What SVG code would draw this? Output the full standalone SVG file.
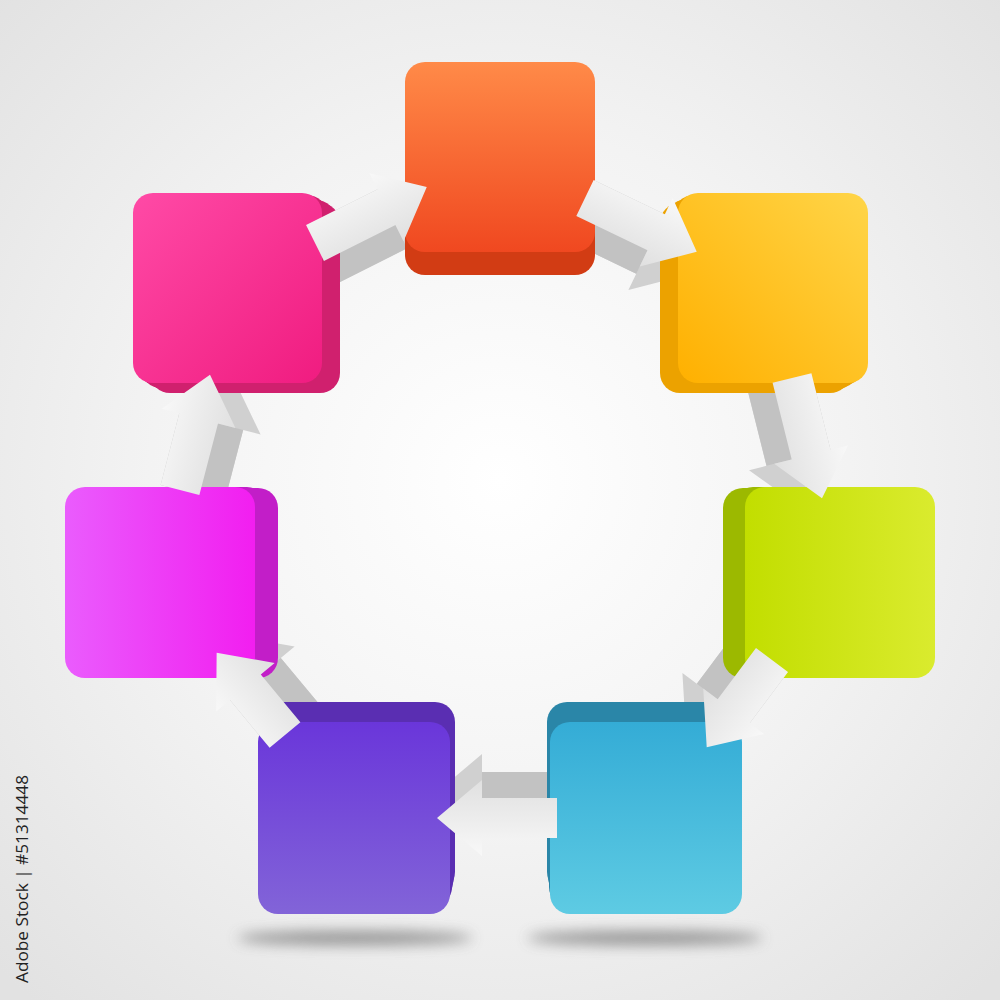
<svg xmlns="http://www.w3.org/2000/svg" width="1000" height="1000" viewBox="0 0 1000 1000">
<defs>
<radialGradient id="bg" cx="500" cy="480" r="700" gradientUnits="userSpaceOnUse">
<stop offset="0" stop-color="#ffffff"/><stop offset="0.5" stop-color="#f3f3f3"/><stop offset="1" stop-color="#e2e2e2"/>
</radialGradient>
<linearGradient id="gOrange" x1="0" y1="0" x2="0" y2="1"><stop offset="0" stop-color="#ff8a48"/><stop offset="1" stop-color="#f04820"/></linearGradient>
<linearGradient id="gYellow" x1="1" y1="0" x2="0" y2="1"><stop offset="0" stop-color="#ffd548"/><stop offset="1" stop-color="#ffb000"/></linearGradient>
<linearGradient id="gGreen" x1="0" y1="0" x2="1" y2="0"><stop offset="0" stop-color="#c2de00"/><stop offset="1" stop-color="#daeb2e"/></linearGradient>
<linearGradient id="gBlue" x1="0" y1="0" x2="0" y2="1"><stop offset="0" stop-color="#34acd6"/><stop offset="1" stop-color="#5ecbe3"/></linearGradient>
<linearGradient id="gPurple" x1="0" y1="0" x2="0" y2="1"><stop offset="0" stop-color="#6a36da"/><stop offset="1" stop-color="#8264d8"/></linearGradient>
<linearGradient id="gMagenta" x1="0" y1="0" x2="1" y2="0"><stop offset="0" stop-color="#ea5cfd"/><stop offset="1" stop-color="#f21ef0"/></linearGradient>
<linearGradient id="gPink" x1="0" y1="0" x2="1" y2="1"><stop offset="0" stop-color="#ff4aa6"/><stop offset="1" stop-color="#f01c80"/></linearGradient>
<linearGradient id="arrowFace" x1="0" y1="0" x2="0" y2="1"><stop offset="0" stop-color="#f8f8f8"/><stop offset="1" stop-color="#e0e0e0"/></linearGradient>
<filter id="blur" x="-50%" y="-200%" width="200%" height="500%"><feGaussianBlur stdDeviation="7"/></filter>
<rect id="sq" x="0" y="0" width="190" height="190" rx="20"/>
<style>
.face{fill:url(#arrowFace)}
.side{fill:#c2c2c2}
.headside{fill:#d0d0d0}
.thin{stroke:#bdbdbd;stroke-width:1.5;fill:none}
.label{font-family:"Open Sans","Liberation Sans",sans-serif;font-size:16px;fill:#222}
</style>
</defs>
<rect x="0" y="0" width="1000" height="1000" fill="url(#bg)"/>
<g id="shadows">
<ellipse cx="355" cy="938" rx="118" ry="7" fill="#555" opacity="0.6" filter="url(#blur)"/>
<ellipse cx="645" cy="938" rx="118" ry="7" fill="#555" opacity="0.6" filter="url(#blur)"/>
</g>
<g id="connector-sides">
<g transform="translate(315,243) rotate(-26.6)"><polygon class="headside" points="0,6 80,6 80,-12 125,26 80,64 80,46 0,46"/><rect class="side" x="0" y="-20" width="80" height="66"/></g>
<g transform="translate(585,198) rotate(25.7)"><polygon class="headside" points="0,6 79,6 79,-12 124,26 79,64 79,46 0,46"/><rect class="side" x="0" y="-20" width="79" height="66"/></g>
<g transform="translate(792,378) rotate(76)"><polygon class="headside" points="0,6 79,6 79,-12 124,26 79,64 79,46 0,46"/><rect class="side" x="0" y="-20" width="79" height="66"/></g>
<g transform="translate(772,660) rotate(126.8)"><polygon class="headside" points="0,6 64,6 64,-12 109,26 64,64 64,46 0,46"/><rect class="side" x="0" y="-20" width="64" height="66"/></g>
<g transform="translate(557,818) rotate(180)"><polygon class="headside" points="0,6 75,6 75,-12 120,26 75,64 75,46 0,46"/><rect class="side" x="0" y="-20" width="75" height="66"/></g>
<g transform="translate(285,735) rotate(-129.7)"><polygon class="headside" points="0,6 62,6 62,-12 107,26 62,64 62,46 0,46"/><rect class="side" x="0" y="-20" width="62" height="66"/></g>
<g transform="translate(180,490) rotate(-75.4)"><polygon class="headside" points="0,6 74,6 74,-12 119,26 74,64 74,46 0,46"/><rect class="side" x="0" y="-20" width="74" height="66"/></g>
</g>
<g id="node-orange">
<g fill="#d23c14">
<use href="#sq" x="405" y="67"/><use href="#sq" x="405" y="72"/><use href="#sq" x="405" y="77"/><use href="#sq" x="405" y="82"/><use href="#sq" x="405" y="85"/>
</g>
<rect x="405" y="62" width="190" height="190" rx="20" fill="url(#gOrange)"/>
</g>
<g id="node-yellow">
<g fill="#eca200">
<use href="#sq" x="674" y="195"/><use href="#sq" x="669" y="198"/><use href="#sq" x="665" y="200"/><use href="#sq" x="660" y="203"/>
</g>
<rect x="678" y="193" width="190" height="190" rx="20" fill="url(#gYellow)"/>
</g>
<g id="node-green">
<g fill="#9cb900">
<use href="#sq" x="739" y="487"/><use href="#sq" x="733" y="487"/><use href="#sq" x="728" y="488"/><use href="#sq" x="723" y="488"/>
</g>
<rect x="745" y="487" width="190" height="191" rx="20" fill="url(#gGreen)"/>
</g>
<g id="node-blue">
<g fill="#2a86a8">
<use href="#sq" x="549" y="717" width="192" height="192"/><use href="#sq" x="549" y="712"/><use href="#sq" x="548" y="707"/><use href="#sq" x="547" y="702"/>
</g>
<rect x="550" y="722" width="192" height="192" rx="20" fill="url(#gBlue)"/>
</g>
<g id="node-purple">
<g fill="#5a2eb2">
<use href="#sq" x="262" y="717"/><use href="#sq" x="263" y="712"/><use href="#sq" x="264" y="707"/><use href="#sq" x="265" y="702"/>
</g>
<rect x="258" y="722" width="192" height="192" rx="20" fill="url(#gPurple)"/>
</g>
<g id="node-magenta">
<g fill="#c21ec8">
<use href="#sq" x="71" y="487"/><use href="#sq" x="77" y="487"/><use href="#sq" x="82" y="488"/><use href="#sq" x="88" y="488"/>
</g>
<rect x="65" y="487" width="190" height="191" rx="20" fill="url(#gMagenta)"/>
</g>
<g id="node-pink">
<g fill="#d0206e">
<use href="#sq" x="137" y="195"/><use href="#sq" x="141" y="198"/><use href="#sq" x="146" y="200"/><use href="#sq" x="150" y="203"/>
</g>
<rect x="133" y="193" width="189" height="190" rx="20" fill="url(#gPink)"/>
</g>
<g id="connectors">
<polygon class="face" transform="translate(315,243) rotate(-26.6)" points="0,-20 80,-20 80,-38 125,0 80,38 80,20 0,20"/>
<polygon class="face" transform="translate(585,198) rotate(25.7)" points="0,-20 79,-20 79,-38 124,0 79,38 79,20 0,20"/>
<polygon class="face" transform="translate(792,378) rotate(76)" points="0,-20 79,-20 79,-38 124,0 79,38 79,20 0,20"/>
<polygon class="face" transform="translate(772,660) rotate(126.8)" points="0,-20 64,-20 64,-38 109,0 64,38 64,20 0,20"/>
<polygon class="face" transform="translate(557,818) rotate(180)" points="0,-20 75,-20 75,-38 120,0 75,38 75,20 0,20"/>
<polygon class="face" transform="translate(285,735) rotate(-129.7)" points="0,-20 62,-20 62,-38 107,0 62,38 62,20 0,20"/>
<polygon class="face" transform="translate(180,490) rotate(-75.4)" points="0,-20 74,-20 74,-38 119,0 74,38 74,20 0,20"/>
</g>
<text class="label" transform="translate(28,983) rotate(-90)" textLength="208" lengthAdjust="spacingAndGlyphs">Adobe Stock | #51314448</text>
</svg>
